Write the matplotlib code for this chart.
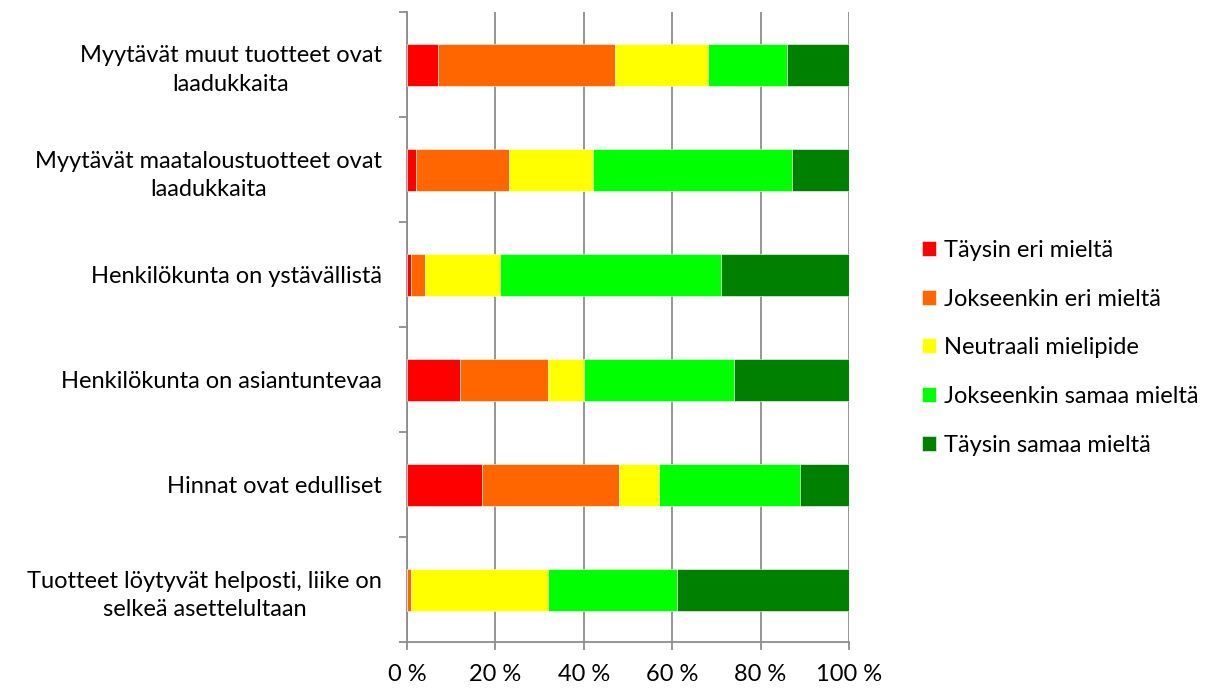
import matplotlib
matplotlib.use("Agg")
import matplotlib.pyplot as plt
from matplotlib.ticker import FixedLocator
import numpy as np

plt.rcParams['font.family'] = ['Lato', 'DejaVu Sans']

categories = [
    "Myytävät muut tuotteet ovat\nlaadukkaita",
    "Myytävät maataloustuotteet ovat\nlaadukkaita",
    "Henkilökunta on ystävällistä",
    "Henkilökunta on asiantuntevaa",
    "Hinnat ovat edulliset",
    "Tuotteet löytyvät helposti, liike on\nselkeä asettelultaan",
]
series_names = [
    "Täysin eri mieltä",
    "Jokseenkin eri mieltä",
    "Neutraali mielipide",
    "Jokseenkin samaa mieltä",
    "Täysin samaa mieltä",
]
taysin_eri = [7, 2, 1, 12, 17, 0]
jokseenkin_eri = [40, 21, 3, 20, 31, 1]
neutraali = [21, 19, 17, 8, 9, 31]
jokseenkin_samaa = [18, 45, 50, 34, 32, 29]
taysin_samaa = [14, 13, 29, 26, 11, 39]
colors = ["#FF0000", "#FF6600", "#FFFF00", "#00FF00", "#008000"]

values = [taysin_eri, jokseenkin_eri, neutraali, jokseenkin_samaa, taysin_samaa]
tick_values = [0, 20, 40, 60, 80, 100]
grey = "#8c8c8c"
fs = 17

fig = plt.figure(figsize=(12.24, 6.93), dpi=100)
ax = fig.add_axes([407 / 1224, 1 - 642 / 693, 442 / 1224, 630 / 693])

y = np.arange(len(categories))
left = np.zeros(len(categories))
for name, vals, col in zip(series_names, values, colors):
    v = np.array(vals, dtype=float)
    ax.barh(y, v, left=left, height=0.4, color=col, label=name,
            edgecolor="white", linewidth=0.4, zorder=3)
    left += v

ax.set_xlim(0, 100)
ax.set_ylim(len(categories) - 0.5, -0.5)
ax.set_xticks(tick_values)
ax.set_xticklabels([f"{v} %" for v in tick_values], fontsize=fs)
ax.grid(axis="x", color=grey, linewidth=1.3, zorder=0)

ax.set_yticks(y)
ax.set_yticklabels(categories, fontsize=fs, multialignment="center",
                   linespacing=1.45)
ax.yaxis.set_minor_locator(FixedLocator(np.arange(-0.5, len(categories), 1.0)))
ax.tick_params(axis="y", which="major", length=0, pad=18)
ax.tick_params(axis="y", which="minor", length=6, color=grey, width=1.3)
ax.tick_params(axis="x", which="major", length=6, color=grey, width=1.3, pad=10)

for side in ("top", "right"):
    ax.spines[side].set_visible(False)
for side in ("left", "bottom"):
    ax.spines[side].set_color(grey)
    ax.spines[side].set_linewidth(1.3)

fig.legend(loc="upper left", bbox_to_anchor=(922 / 1224, 1 - 240 / 693),
           frameon=False, fontsize=fs, handlelength=0.6, handleheight=0.6,
           labelspacing=1.17, handletextpad=0.33, borderaxespad=0,
           borderpad=0)

fig.savefig("out.png", dpi=100, facecolor="white")
